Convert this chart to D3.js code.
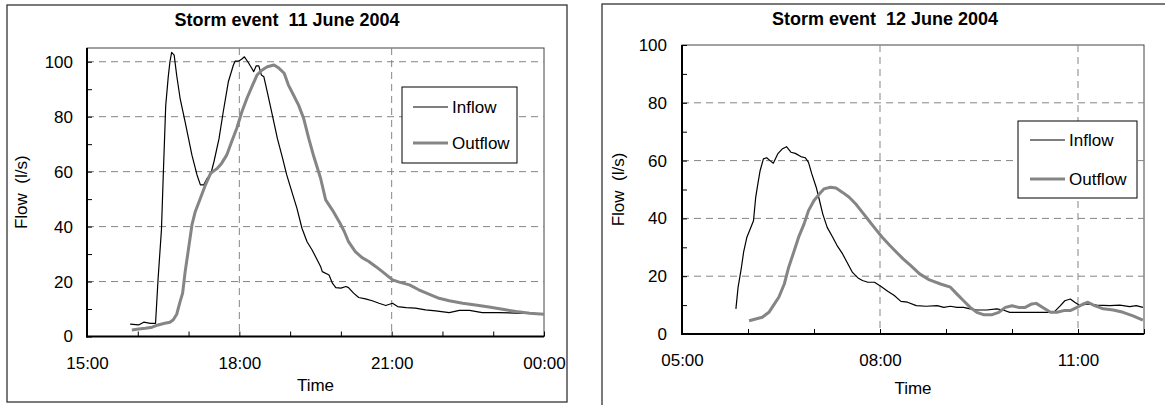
<!DOCTYPE html>
<html>
<head>
<meta charset="utf-8">
<script src="https://cdn.jsdelivr.net/npm/d3@7"></script>
<style>
  html, body { margin: 0; padding: 0; background: #fff; }
  svg { display: block; }
  text { font-family: "Liberation Sans", Arial, sans-serif; fill: #000; white-space: pre; }
</style>
</head>
<body>
<svg id="chart" width="1165" height="405"></svg>
<script>
// ---------- DATA ----------
const seriesNames = ["Inflow", "Outflow"];

const titleJune11 = "Storm event  11 June 2004";
const inflowJune11Time = ["15:51","16:01","16:07","16:15","16:21","16:24","16:28","16:30","16:33","16:36","16:38","16:40","16:43","16:46","16:50","16:56","17:04","17:10","17:14","17:18","17:22","17:26","17:30","17:36","17:41","17:47","17:53","17:55","17:59","18:03","18:06","18:10","18:14","18:17","18:20","18:23","18:26","18:29","18:33","18:39","18:45","18:51","18:56","19:02","19:08","19:14","19:20","19:26","19:36","19:38","19:46","19:50","19:54","20:00","20:06","20:09","20:15","20:21","20:29","20:37","20:45","20:53","21:01","21:07","21:17","21:28","21:40","21:52","22:08","22:20","22:32","22:47","23:07","23:27","23:43","24:00"];
const inflowJune11Flow = [4.5,4.2,5.2,4.8,4.8,21,39,57.6,84,94.5,100,103.4,102.4,95,86.7,78,66,58.8,55.2,55.2,57.6,58.8,63.6,72,81.8,92.7,98.8,100.2,100.2,101,101.8,100,98,96.4,98.5,98.5,95.2,94.5,89,80.6,72,65,58.8,52.7,46.7,39.4,34.5,31.5,25.5,23.6,22.4,19.4,17.8,17.6,18.2,17.8,15.8,14.2,13.7,13,12.1,11.3,12.1,10.9,10.5,10.3,9.7,9.3,8.7,9.5,9.5,8.7,8.7,8.5,8.4,8.1];
const outflowJune11Time = ["15:53","16:01","16:09","16:17","16:24","16:32","16:38","16:42","16:46","16:50","16:53","16:56","17:00","17:04","17:08","17:14","17:20","17:26","17:34","17:39","17:45","17:51","17:57","18:03","18:09","18:15","18:21","18:27","18:33","18:41","18:47","18:53","18:58","19:04","19:10","19:16","19:22","19:28","19:36","19:42","19:50","19:58","20:04","20:09","20:17","20:25","20:33","20:41","20:49","21:01","21:09","21:21","21:32","21:44","21:56","22:08","22:24","22:39","22:55","23:11","23:27","23:43","24:00"];
const outflowJune11Flow = [2.4,2.7,3.0,3.4,4.2,4.8,5.2,6.1,8.1,12.7,15.8,23.6,32,40.6,45.5,50.3,55.2,59.4,61.2,63,66,71,75.8,81.8,86.7,91,95.2,97,98.2,98.8,97.6,95.8,91.5,87.9,84.2,79.4,72.1,65.5,57.6,49.7,46,41.8,38.2,34.5,30.9,28.7,27.3,25.5,23.6,20.6,19.8,18.8,17,15.4,13.9,13,12.1,11.5,10.7,9.9,9.1,8.5,8.1];

const titleJune12 = "Storm event  12 June 2004";
const inflowJune12Time = ["05:49","05:51","05:54","05:56","05:59","06:02","06:05","06:07","06:09","06:11","06:14","06:17","06:20","06:23","06:27","06:31","06:35","06:39","06:43","06:48","06:52","06:55","06:58","07:02","07:05","07:08","07:12","07:17","07:21","07:26","07:30","07:35","07:40","07:44","07:49","07:55","08:01","08:07","08:13","08:19","08:25","08:33","08:42","08:52","08:58","09:04","09:10","09:16","09:22","09:28","09:37","09:46","09:52","09:58","10:13","10:28","10:38","10:44","10:48","10:53","10:57","11:02","11:08","11:17","11:29","11:38","11:47","11:53","11:59"];
const inflowJune12Flow = [8.7,16.2,23,28.3,33.5,36.3,39.2,47.3,52,56.5,60.6,61,60,59.1,62.3,64,64.8,62.9,62.5,61.4,61,59.4,55.4,50.8,46.2,41.5,36.9,33.5,30.6,27.7,24.8,21.3,19.4,18.5,17.9,17.9,16.4,14.8,13.3,11.3,11,9.8,9.6,9.8,9.2,9.6,9.2,9.2,8.7,8.3,8.3,8.7,8.3,7.5,7.5,7.5,7.5,9.8,11.5,12.1,11,9.8,10.4,10,9.8,10,9.5,9.8,9.2];
const outflowJune12Time = ["06:01","06:07","06:13","06:19","06:23","06:28","06:33","06:37","06:42","06:46","06:51","06:55","07:00","07:05","07:09","07:15","07:20","07:26","07:32","07:38","07:44","07:50","07:56","08:02","08:09","08:15","08:21","08:27","08:36","08:45","08:55","09:04","09:10","09:16","09:22","09:28","09:34","09:42","09:48","09:54","10:00","10:06","10:12","10:18","10:22","10:28","10:35","10:41","10:47","10:53","10:59","11:05","11:09","11:15","11:23","11:32","11:41","11:50","11:59"];
const outflowJune12Flow = [4.6,5.2,5.8,7.5,9.8,12.7,17.3,23.1,28.8,33.5,38.1,42.7,46.2,48.5,50.2,50.8,50.5,49,47.3,45,42.1,39.2,36.3,33.5,30.6,28.3,26,24,20.8,18.7,17.3,16.2,13.8,11.5,9.2,7.5,6.7,6.7,7.5,9.2,9.8,9.2,9.2,10.4,10.6,9.2,7.5,7.5,8.1,8.1,9.2,10.4,11,9.8,8.7,8.3,7.5,6.3,4.8];

const xTickLabelsJune11 = ["15:00","18:00","21:00","00:00"];
const xTickLabelsJune12 = ["05:00","08:00","11:00"];
const yTickLabels = [0,20,40,60,80,100];
const yAxisTitle = "Flow  (l/s)";
const xAxisTitle = "Time";

// ---------- HELPERS ----------
const toMin = s => { const [h, m] = s.split(":").map(Number); return h * 60 + m; };
const pad = n => String(n).padStart(2, "0");
const fmtMin = m => pad(Math.floor(m / 60) % 24) + ":" + pad(m % 60);

const svg = d3.select("#chart");
const FONT = 17;
const FAMILY = '"Liberation Sans", Arial, sans-serif';

function drawChart(cfg) {
  const g = svg.append("g");
  // outer frame
  g.append("rect")
    .attr("x", cfg.frame[0]).attr("y", cfg.frame[1])
    .attr("width", cfg.frame[2]).attr("height", cfg.frame[3])
    .attr("fill", "#fff").attr("stroke", "#333").attr("stroke-width", 1.3);

  const x = d3.scaleLinear().domain(cfg.xDomain).range([cfg.plot.x0, cfg.plot.x1]);
  const y = d3.scaleLinear().domain(cfg.yDomain).range([cfg.plot.y1, cfg.plot.y0]);

  // plot area border
  g.append("rect")
    .attr("x", cfg.plot.x0).attr("y", cfg.plot.y0)
    .attr("width", cfg.plot.x1 - cfg.plot.x0).attr("height", cfg.plot.y1 - cfg.plot.y0)
    .attr("fill", "none").attr("stroke", "#444").attr("stroke-width", 1);

  // gridlines
  const hGrid = yTickLabels.filter(v => v > 0 && v < cfg.yDomain[1]);
  g.append("g").selectAll("line").data(hGrid).join("line")
    .attr("x1", cfg.plot.x0).attr("x2", cfg.plot.x1)
    .attr("y1", d => y(d)).attr("y2", d => y(d))
    .attr("stroke", "#858585").attr("stroke-width", 1).attr("stroke-dasharray", "7,5");
  const vGrid = cfg.xLabels.map(toMin).map(m => m === 0 ? 1440 : m)
    .filter(m => m > cfg.xDomain[0] && m < cfg.xDomain[1]);
  g.append("g").selectAll("line").data(vGrid).join("line")
    .attr("y1", cfg.plot.y0).attr("y2", cfg.plot.y1)
    .attr("x1", d => x(d)).attr("x2", d => x(d))
    .attr("stroke", "#858585").attr("stroke-width", 1).attr("stroke-dasharray", "7,5");

  // y axis
  const yTicks = d3.range(0, 101, 10);
  const yAx = g.append("g").attr("transform", `translate(${cfg.plot.x0},0)`)
    .call(d3.axisLeft(y).tickValues(yTicks).tickSize(-5).tickPadding(cfg.yPad)
      .tickFormat(d => yTickLabels.includes(d) ? d : ""));
  yAx.select(".domain").remove();
  yAx.selectAll(".tick line").attr("stroke", "#000").attr("stroke-width", 1);
  yAx.selectAll("text").style("font-size", FONT + "px").style("font-family", FAMILY).attr("fill", "#000");

  // x axis
  const labelMins = cfg.xLabels.map(toMin).map(m => m === 0 ? 1440 : m);
  const xAx = g.append("g").attr("transform", `translate(0,${cfg.plot.y1})`)
    .call(d3.axisBottom(x).tickValues(d3.range(cfg.xDomain[0], cfg.xDomain[1] + 1, 60))
      .tickSize(-5).tickPadding(20)
      .tickFormat(d => labelMins.includes(d) ? fmtMin(d) : ""));
  xAx.select(".domain").remove();
  xAx.selectAll(".tick line").attr("stroke", "#000").attr("stroke-width", 1);
  xAx.selectAll("text").style("font-size", FONT + "px").style("font-family", FAMILY).attr("fill", "#000");

  // axis lines
  g.append("line").attr("x1", cfg.plot.x0).attr("x2", cfg.plot.x0)
    .attr("y1", cfg.plot.y0).attr("y2", cfg.plot.y1 + 1).attr("stroke", "#000").attr("stroke-width", 2);
  g.append("line").attr("x1", cfg.plot.x0 - 1).attr("x2", cfg.plot.x1)
    .attr("y1", cfg.plot.y1).attr("y2", cfg.plot.y1).attr("stroke", "#000").attr("stroke-width", 2);

  // lines
  const line = d3.line().x(d => x(d[0])).y(d => y(d[1]));
  const inData = cfg.inTime.map((t, i) => [toMin(t), cfg.inFlow[i]]);
  const outData = cfg.outTime.map((t, i) => [toMin(t), cfg.outFlow[i]]);
  g.append("path").datum(inData).attr("d", line)
    .attr("fill", "none").attr("stroke", "#000").attr("stroke-width", 1.2).attr("stroke-linejoin", "round");
  g.append("path").datum(outData).attr("d", line)
    .attr("fill", "none").attr("stroke", "#858585").attr("stroke-width", 3).attr("stroke-linejoin", "round");

  // legend
  const L = cfg.legend;
  g.append("rect").attr("x", L.x).attr("y", L.y).attr("width", L.w).attr("height", L.h)
    .attr("fill", "#fff").attr("stroke", "#000").attr("stroke-width", 1);
  const items = [
    { name: seriesNames[0], color: "#000", width: 1.2, y: L.y1 },
    { name: seriesNames[1], color: "#858585", width: 3, y: L.y2 }
  ];
  items.forEach(it => {
    g.append("line").attr("x1", L.lx1).attr("x2", L.lx2).attr("y1", it.y).attr("y2", it.y)
      .attr("stroke", it.color).attr("stroke-width", it.width);
    g.append("text").attr("x", L.tx).attr("y", it.y).attr("dy", "0.35em")
      .style("font-size", FONT + "px").text(it.name);
  });

  // titles
  g.append("text").attr("x", cfg.titlePos[0]).attr("y", cfg.titlePos[1]).attr("dy", "0.35em")
    .attr("text-anchor", "middle").style("font-size", "18px").style("font-weight", "bold").text(cfg.title);
  g.append("text").attr("transform", `translate(${cfg.yTitleX},${(cfg.plot.y0 + cfg.plot.y1) / 2}) rotate(-90)`)
    .attr("text-anchor", "middle").attr("dy", "0.35em").style("font-size", FONT + "px").text(yAxisTitle);
  g.append("text").attr("x", (cfg.plot.x0 + cfg.plot.x1) / 2).attr("y", cfg.xTitleY).attr("dy", "0.35em")
    .attr("text-anchor", "middle").style("font-size", FONT + "px").text(xAxisTitle);
}

drawChart({
  frame: [7, 5, 560, 397],
  plot: { x0: 87, x1: 544, y0: 48, y1: 336.5 },
  xDomain: [toMin("15:00"), toMin("24:00")],
  yDomain: [0, 105],
  xLabels: xTickLabelsJune11,
  yPad: 14,
  inTime: inflowJune11Time, inFlow: inflowJune11Flow,
  outTime: outflowJune11Time, outFlow: outflowJune11Flow,
  legend: { x: 402, y: 87, w: 115, h: 76, y1: 107, y2: 143, lx1: 413, lx2: 448, tx: 452 },
  title: titleJune11, titlePos: [287, 20],
  yTitleX: 21, xTitleY: 385
});

drawChart({
  frame: [602, 4, 620, 460],
  plot: { x0: 682, x1: 1144, y0: 45, y1: 334 },
  xDomain: [toMin("05:00"), toMin("12:00")],
  yDomain: [0, 100],
  xLabels: xTickLabelsJune12,
  yPad: 15,
  inTime: inflowJune12Time, inFlow: inflowJune12Flow,
  outTime: outflowJune12Time, outFlow: outflowJune12Flow,
  legend: { x: 1018, y: 121, w: 119, h: 77, y1: 140, y2: 179, lx1: 1030, lx2: 1065, tx: 1069 },
  title: titleJune12, titlePos: [885, 19],
  yTitleX: 618, xTitleY: 388
});
</script>
</body>
</html>
